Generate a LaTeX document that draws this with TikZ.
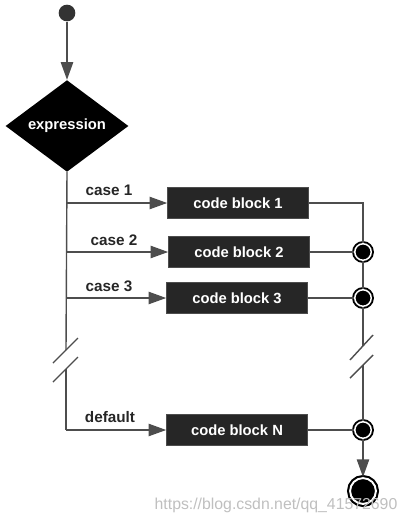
\documentclass[tikz,border=0pt]{standalone}
\usepackage{fontspec}
\setmainfont{Liberation Sans}
\usetikzlibrary{shapes.geometric,arrows.meta}
\definecolor{wire}{HTML}{4D4D4D}
\definecolor{blockfill}{HTML}{262626}
\begin{document}
\begin{tikzpicture}[x=0.02cm,y=-0.02cm,
    wire/.style={draw=wire,line width=0.8pt},
    flow/.style={wire,-{Triangle[length=10pt,width=7pt]}},
    block/.style={rectangle,fill=blockfill,draw=wire,line width=0.6pt,text=white,
      font=\bfseries\fontsize{8.4}{10}\selectfont,minimum width=80pt,minimum height=17.5pt,inner sep=0pt},
    lbl/.style={font=\bfseries\fontsize{8.7}{10}\selectfont,text=black!85},
    junction/.style={circle,fill=black,draw=black,double=white,double distance=0.85pt,
      line width=1.1pt,minimum size=9.35pt,inner sep=0pt}]
  \useasboundingbox (0,0) rectangle (408,524);
  % nodes
  \node[circle,fill=black!80,minimum size=9.5pt,inner sep=0pt] (start) at (67,13) {};
  \node[diamond,fill=black,text=white,inner sep=0pt,minimum width=70pt,minimum height=52pt,
    font=\bfseries\fontsize{8.4}{10}\selectfont] (expr) at (67,126) {expression};
  \node[block] (b1) at (238,203) {code block 1};
  \node[block] (b2) at (239,252) {code block 2};
  \node[block] (b3) at (237,298) {code block 3};
  \node[block] (bN) at (237,430) {code block N};
  \node[lbl] (c1) at (109,190) {case 1};
  \node[lbl] (c2) at (114,240) {case 2};
  \node[lbl] (c3) at (109,286) {case 3};
  \node[lbl] (cN) at (110,417) {default};
  \node[junction] (j2) at (363,252) {};
  \node[junction] (j3) at (363,298) {};
  \node[junction] (jN) at (363,430) {};
  \node[circle,fill=black,draw=black,double=white,double distance=1.1pt,line width=1.2pt,
    minimum size=14.7pt,inner sep=0pt] (stop) at (363,491) {};
  \node[text=black!25,font=\fontsize{9}{10}\selectfont] (mark) at (276,505) {https://blog.csdn.net/qq\_41572690};
  \coordinate (l1) at (66,203);
  \coordinate (l2) at (66,252);
  \coordinate (l3) at (66,298);
  \coordinate (lN) at (66,430);
  \coordinate (lcut1) at (66,350);
  \coordinate (lcut2) at (66,369);
  \coordinate (r1) at (363,203);
  \coordinate (rcut1) at (363,346);
  \coordinate (rcut2) at (363,365);
  % connectors
  \draw[flow] (start) to (expr.north);
  \draw[wire] (expr.south) to (lcut1);
  \draw[wire] (lcut2) to (lN);
  \draw[flow] (l1) to (b1);
  \draw[flow] (l2) to (b2);
  \draw[flow] (l3) to (b3);
  \draw[flow] (lN) to (bN);
  \draw[wire] (b1) -- (r1) -- (j2);
  \draw[wire] (j2) to (j3);
  \draw[wire] (j3) to (rcut1);
  \draw[wire] (rcut2) to (jN);
  \draw[wire] (b2) to (j2);
  \draw[wire] (b3) to (j3);
  \draw[wire] (bN) to (jN);
  \draw[flow] (jN) to (stop);
  % breaks
  \draw[wire] (53,363) -- (78,338) (53,382) -- (78,357);
  \draw[wire] (350,360) -- (373,335) (350,378) -- (373,355);
\end{tikzpicture}
\end{document}
